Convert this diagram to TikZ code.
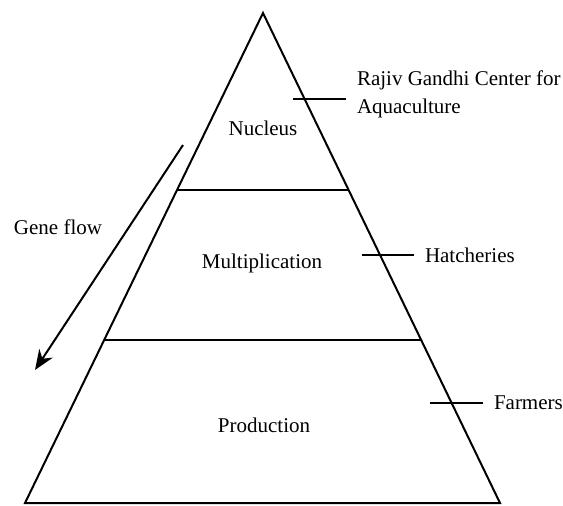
\documentclass[tikz,border=0pt]{standalone}
\usepackage{fontspec}
\setmainfont{Liberation Serif}
\usetikzlibrary{arrows.meta}

\tikzset{
  lbl/.style={font=\fontsize{10.5}{14}\selectfont, inner sep=1pt},
  tick/.style={line width=0.8pt, shorten >=4pt}
}

\begin{document}
\begin{tikzpicture}[x=0.5pt,y=-0.5pt,line width=1pt]
\useasboundingbox (0,0) rectangle (563,505);
% pyramid
\coordinate (apex) at (263,13);
\coordinate (bl) at (25,503);
\coordinate (br) at (500,503);
\draw (bl) -- (apex) -- (br) -- cycle;
% layer borders
\coordinate (l1) at (177,190);
\coordinate (r1) at (349,190);
\coordinate (l2) at (104,340);
\coordinate (r2) at (421,340);
\draw (l1) -- (r1);
\draw (l2) -- (r2);
% layer names
\node[lbl] (nucleus) at (263,128) {Nucleus};
\node[lbl] (multi) at (262,263) {Multiplication};
\node[lbl] (prod) at (264,425) {Production};
% gene flow
\node[lbl] (gene) at (58,227) {Gene flow};
\coordinate (gtop) at (183,145);
\coordinate (gbot) at (35,370);
\draw[-{Stealth[length=10pt,width=8pt]}] (gtop) -- (gbot);
% who holds each layer
\node[lbl,anchor=west,align=left] (rgca) at (354,94) {Rajiv Gandhi Center for\\Aquaculture};
\node[lbl,anchor=west] (hatch) at (422,255) {Hatcheries};
\node[lbl,anchor=west] (farm) at (491,403) {Farmers};
\coordinate (t1) at (293,99);
\coordinate (t2) at (362,255);
\coordinate (t3) at (430,403);
\draw[tick] (t1) -- (t1 -| rgca.west);
\draw[tick] (t2) -- (hatch.west);
\draw[tick] (t3) -- (farm.west);
\end{tikzpicture}
\end{document}
